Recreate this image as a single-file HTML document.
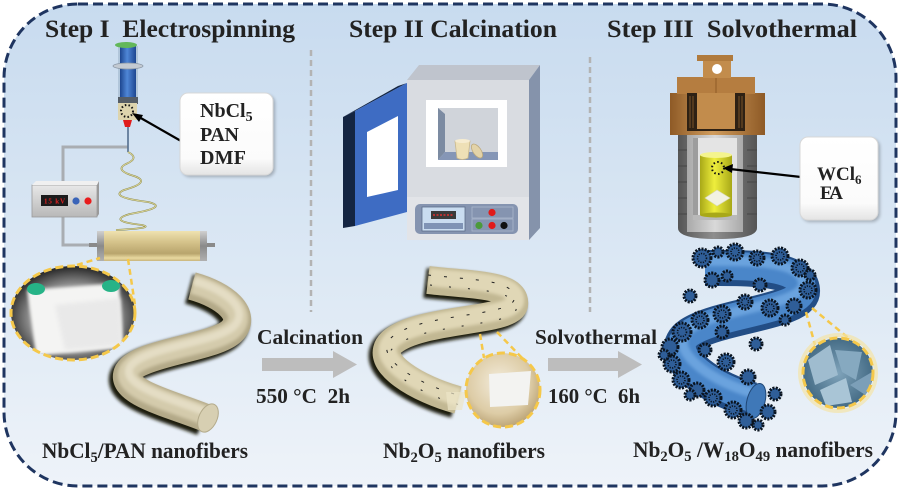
<!DOCTYPE html>
<html><head><meta charset="utf-8"><style>
html,body{margin:0;padding:0;background:#fff;}
svg{display:block;}
text{font-family:"Liberation Serif","Times New Roman",serif;font-weight:bold;fill:#222;}
</style></head><body>
<svg width="900" height="490" viewBox="0 0 900 490" xmlns="http://www.w3.org/2000/svg">
<defs>
<linearGradient id="bg" x1="0" y1="0" x2="0" y2="1">
<stop offset="0" stop-color="#c8dbef"/><stop offset="0.55" stop-color="#dce8f4"/><stop offset="1" stop-color="#eef3f9"/>
</linearGradient>
<linearGradient id="boxg" x1="0" y1="0" x2="0" y2="1">
<stop offset="0" stop-color="#ffffff"/><stop offset="0.8" stop-color="#fbfbfb"/><stop offset="1" stop-color="#e4e4e4"/>
</linearGradient>
<linearGradient id="barrel" x1="0" y1="0" x2="1" y2="0">
<stop offset="0" stop-color="#1d4690"/><stop offset="0.45" stop-color="#4f86d6"/><stop offset="1" stop-color="#1d4690"/>
</linearGradient>
<linearGradient id="drum" x1="0" y1="0" x2="0" y2="1">
<stop offset="0" stop-color="#efe2b0"/><stop offset="0.35" stop-color="#d6c48c"/><stop offset="0.75" stop-color="#b8a46c"/><stop offset="0.9" stop-color="#e9d9a0"/><stop offset="1" stop-color="#c9b57c"/>
</linearGradient>
<linearGradient id="cap" x1="0" y1="0" x2="0" y2="1">
<stop offset="0" stop-color="#d0d0d0"/><stop offset="0.5" stop-color="#8a8a8a"/><stop offset="1" stop-color="#b0b0b0"/>
</linearGradient>
<linearGradient id="vbox" x1="0" y1="0" x2="0" y2="1">
<stop offset="0" stop-color="#e8e8e8"/><stop offset="1" stop-color="#b8b8b8"/>
</linearGradient>
<radialGradient id="vign" cx="0.5" cy="0.55" r="0.55">
<stop offset="0" stop-color="#e0e0e0"/><stop offset="0.65" stop-color="#8a8a8a"/><stop offset="1" stop-color="#1e1e1e"/>
</radialGradient>
<radialGradient id="tanc" cx="0.45" cy="0.4" r="0.6">
<stop offset="0" stop-color="#f3ecdc"/><stop offset="0.7" stop-color="#ddcca6"/><stop offset="1" stop-color="#bda679"/>
</radialGradient>
<radialGradient id="bluec" cx="0.5" cy="0.5" r="0.55">
<stop offset="0" stop-color="#7fa3ba"/><stop offset="1" stop-color="#3f6680"/>
</radialGradient>
<linearGradient id="lid" x1="0" y1="0" x2="1" y2="0">
<stop offset="0" stop-color="#8e5a26"/><stop offset="0.45" stop-color="#d19d5e"/><stop offset="1" stop-color="#8e5a26"/>
</linearGradient>
<linearGradient id="body" x1="0" y1="0" x2="1" y2="0">
<stop offset="0" stop-color="#555"/><stop offset="0.45" stop-color="#8e8e8e"/><stop offset="1" stop-color="#555"/>
</linearGradient>
<linearGradient id="yel" x1="0" y1="0" x2="1" y2="0">
<stop offset="0" stop-color="#a8a818"/><stop offset="0.45" stop-color="#eeee3c"/><stop offset="1" stop-color="#a8a818"/>
</linearGradient>
<linearGradient id="ptfe" x1="0" y1="0" x2="1" y2="0">
<stop offset="0" stop-color="#a9a9a9"/><stop offset="0.5" stop-color="#d9d9d9"/><stop offset="1" stop-color="#a9a9a9"/>
</linearGradient>
<clipPath id="cl1"><ellipse cx="73" cy="313" rx="62" ry="47"/></clipPath>
<clipPath id="cl2"><circle cx="503" cy="390" r="37"/></clipPath>
<clipPath id="cl3"><circle cx="838" cy="373" r="35"/></clipPath>
<filter id="sh" x="-20%" y="-20%" width="140%" height="140%"><feGaussianBlur stdDeviation="1.5"/></filter>
<filter id="bl" x="-20%" y="-20%" width="140%" height="140%"><feGaussianBlur stdDeviation="2"/></filter>
</defs>

<!-- background panel -->
<rect x="4" y="4" width="892" height="482" rx="74" ry="74" fill="url(#bg)"/>
<rect x="4" y="4" width="892" height="482" rx="74" ry="74" fill="none" stroke="#1f3560" stroke-width="3" stroke-dasharray="10 5"/>

<!-- separators -->
<line x1="311" y1="50" x2="311" y2="312" stroke="#b3b3b3" stroke-width="2.5" stroke-dasharray="6 4"/>
<line x1="590" y1="57" x2="590" y2="312" stroke="#b3b3b3" stroke-width="2.5" stroke-dasharray="6 4"/>

<!-- titles -->
<text x="45" y="37" font-size="25" textLength="250" lengthAdjust="spacingAndGlyphs">Step I&#160;&#160;Electrospinning</text>
<text x="349" y="37" font-size="25" textLength="208" lengthAdjust="spacingAndGlyphs">Step II Calcination</text>
<text x="607" y="37" font-size="25" textLength="250" lengthAdjust="spacingAndGlyphs">Step III&#160;&#160;Solvothermal</text>

<!-- ===== STEP I ===== -->
<polyline points="128,147 63,147 63,186" fill="none" stroke="#a9adb2" stroke-width="3"/>
<polyline points="63,216 63,245 92,245" fill="none" stroke="#a9adb2" stroke-width="3"/>
<rect x="118" y="46" width="20" height="56" fill="#9fb5cc" opacity="0.6"/>
<rect x="120" y="46" width="16" height="52" fill="url(#barrel)"/>
<ellipse cx="126" cy="45" rx="11" ry="3" fill="#63b85a"/>
<ellipse cx="128" cy="66" rx="15" ry="3" fill="#c3cad2" stroke="#8a97a5" stroke-width="0.8"/>
<rect x="118" y="97" width="20" height="7" fill="#555d66"/>
<rect x="118" y="103" width="19" height="17" fill="#ddd4ad"/>
<circle cx="127" cy="111" r="6" fill="none" stroke="#111" stroke-width="2" stroke-dasharray="1.5 2.2"/>
<polygon points="123,120 132,120 130,127 125,127" fill="#e01c1c"/>
<line x1="128" y1="127" x2="128" y2="152" stroke="#56708f" stroke-width="1.6"/>
<path d="M128,152 Q140,158 126,164 Q114,170 134,176 Q152,182 124,190 Q108,197 148,202 Q170,207 130,214 Q106,221 142,225 Q156,228 116,230" fill="none" stroke="#8c8a4a" stroke-width="1.8"/>
<path d="M128,152 Q140,158 126,164 Q114,170 134,176 Q152,182 124,190 Q108,197 148,202 Q170,207 130,214 Q106,221 142,225 Q156,228 116,230" fill="none" stroke="#e2dca0" stroke-width="0.8"/>
<rect x="32" y="185" width="65" height="32" fill="url(#vbox)" stroke="#9a9a9a" stroke-width="0.8"/>
<polygon points="32,185 36,181 99,181 97,185" fill="#f0f0f0"/>
<polygon points="97,185 99,181 99,214 97,217" fill="#9a9a9a"/>
<rect x="41" y="195" width="27" height="11" fill="#1b1b1b"/>
<text x="44" y="203.5" font-size="7" style="fill:#e02020" textLength="21">15 kV</text>
<circle cx="76" cy="201" r="3.6" fill="#3a64b8"/>
<circle cx="88" cy="201" r="3.6" fill="#e81c1c"/>
<rect x="89" y="243" width="9" height="4" fill="#8a8a8a"/>
<rect x="206" y="243" width="9" height="4" fill="#8a8a8a"/>
<rect x="97" y="231" width="110" height="30" fill="url(#drum)"/>
<rect x="97" y="231" width="7" height="30" fill="url(#cap)"/>
<rect x="200" y="231" width="7" height="30" fill="url(#cap)"/>
<line x1="181" y1="141" x2="139" y2="117" stroke="#000" stroke-width="2.2"/>
<polygon points="132,113 143,115 139,122" fill="#000"/>
<rect x="182" y="95" width="93" height="82" rx="8" fill="#000" opacity="0.25" filter="url(#sh)"/>
<rect x="180" y="93" width="93" height="82" rx="8" fill="url(#boxg)" stroke="#d8d8d8" stroke-width="1"/>
<text x="200" y="117" font-size="20">NbCl<tspan font-size="14" dy="4">5</tspan></text>
<text x="200" y="141" font-size="20" textLength="39">PAN</text>
<text x="200" y="164" font-size="20" textLength="46">DMF</text>
<!-- inset left -->
<line x1="77" y1="265" x2="100" y2="258" stroke="#f5c84a" stroke-width="2.5" stroke-dasharray="6 4"/>
<line x1="128" y1="259" x2="135" y2="305" stroke="#f5c84a" stroke-width="2.5" stroke-dasharray="6 4"/>
<g clip-path="url(#cl1)">
<rect x="10" y="265" width="128" height="96" fill="url(#vign)"/>
<polygon points="27,290 119,283 123,348 36,356" fill="#f4f4f3" filter="url(#sh)"/>
<polygon points="55,305 120,298 122,345 65,350" fill="#e9e9e9" filter="url(#bl)"/>
<ellipse cx="36" cy="289" rx="9" ry="6" fill="#26b387"/>
<ellipse cx="111" cy="286" rx="9" ry="6" fill="#26b387"/>
</g>
<ellipse cx="73" cy="313" rx="62" ry="47" fill="none" stroke="#f5c84a" stroke-width="3" stroke-dasharray="8 4"/>
<!-- fiber left -->
<g fill="none" stroke-linecap="butt">
<path d="M192,286 C225,295 248,315 232,331 C215,348 140,352 128,372 C118,392 175,405 206,418" stroke="#1e1a10" stroke-width="30" transform="translate(-3,3)" filter="url(#sh)"/>
<path d="M192,286 C225,295 248,315 232,331 C215,348 140,352 128,372 C118,392 175,405 206,418" stroke="#b3a988" stroke-width="28"/>
<path d="M192,286 C225,295 248,315 232,331 C215,348 140,352 128,372 C118,392 175,405 206,418" stroke="#d4cbac" stroke-width="20" transform="translate(1,-2)" filter="url(#sh)"/>
<path d="M192,286 C225,295 248,315 232,331 C215,348 140,352 128,372 C118,392 175,405 206,418" stroke="#e4ddc4" stroke-width="8" transform="translate(2,-5)" filter="url(#sh)"/>
</g>
<ellipse cx="208" cy="418" rx="9" ry="15" transform="rotate(25 208 418)" fill="#d7cfb2" stroke="#b3aa8a" stroke-width="1"/>
<text x="42" y="458" font-size="22" textLength="206" lengthAdjust="spacingAndGlyphs">NbCl<tspan font-size="15" dy="4">5</tspan><tspan dy="-4">/PAN nanofibers</tspan></text>

<!-- arrows -->
<rect x="262" y="358" width="73" height="13" fill="#bdbdbd"/>
<polygon points="333,351 357,364.5 333,378" fill="#bdbdbd"/>
<rect x="548" y="358" width="72" height="13" fill="#bdbdbd"/>
<polygon points="618,351 642,364.5 618,378" fill="#bdbdbd"/>
<text x="257" y="344" font-size="21" textLength="106" lengthAdjust="spacingAndGlyphs">Calcination</text>
<text x="256" y="403" font-size="21" textLength="94" lengthAdjust="spacingAndGlyphs">550 °C&#160;&#160;2h</text>
<text x="535" y="344" font-size="21" textLength="122" lengthAdjust="spacingAndGlyphs">Solvothermal</text>
<text x="548" y="403" font-size="21" textLength="92" lengthAdjust="spacingAndGlyphs">160 °C&#160;&#160;6h</text>

<!-- ===== STEP II furnace ===== -->
<polygon points="407,80 419,65 540,65 529,80" fill="#bfc4cd"/>
<polygon points="529,80 540,65 540,228 529,240" fill="#8593ab"/>
<rect x="407" y="80" width="122" height="160" fill="#d9dce1"/>
<rect x="407" y="197" width="122" height="43" fill="#e2e4e8"/>
<rect x="426" y="100" width="81" height="67" fill="#ffffff"/>
<rect x="438" y="108" width="60" height="52" fill="#d0d4da"/>
<polygon points="438,108 445,114 445,152 438,160" fill="#7c8ba2"/>
<polygon points="438,160 445,152 498,152 498,160" fill="#8596b6"/>
<path d="M455,141 L470,141 L468,158 Q462,161 457,158 Z" fill="#eee0b6" stroke="#c9b88c" stroke-width="0.8"/>
<ellipse cx="462.5" cy="141" rx="7.5" ry="2" fill="#f6ecd0"/>
<ellipse cx="477" cy="151" rx="4" ry="8" transform="rotate(-35 477 151)" fill="#e3d3a8" stroke="#bca97c" stroke-width="0.8"/>
<rect x="415" y="204" width="103" height="30" rx="5" fill="#8594b0"/>
<rect x="422" y="207" width="43" height="24" fill="#c9dcf0" stroke="#5d6d8a" stroke-width="0.8"/>
<rect x="431" y="211" width="25" height="8" fill="#3a3a3a"/>
<line x1="433" y1="215" x2="454" y2="215" stroke="#e03030" stroke-width="1.5" stroke-dasharray="2 1.5"/>
<rect x="424" y="223" width="39" height="6" fill="#7f93b5"/>
<rect x="472" y="207" width="41" height="11" fill="none" stroke="#a9b6cc" stroke-width="0.8"/>
<rect x="472" y="219" width="41" height="12" fill="none" stroke="#a9b6cc" stroke-width="0.8"/>
<circle cx="492" cy="212.5" r="3.6" fill="#e01a1a"/>
<circle cx="479" cy="225.5" r="3.6" fill="#4c9a3a"/>
<circle cx="492" cy="225.5" r="3.6" fill="#e01a1a"/>
<circle cx="504" cy="225.5" r="3.6" fill="#111"/>
<polygon points="343,117 355,111 355,226 343,228" fill="#142542"/>
<polygon points="343,117 398,86 407,83 355,111" fill="#142542"/>
<polygon points="355,111 407,83 407,212 355,226" fill="#3e6cc3"/>
<polygon points="367,132 398,116 398,190 367,197" fill="#ffffff"/>
<!-- fiber middle -->
<g fill="none">
<path d="M428,280 C470,285 518,284 514,305 C508,322 420,318 392,342 C370,362 420,390 458,400" stroke="#1e1a10" stroke-width="30" transform="translate(-3,3)" filter="url(#sh)"/>
<path d="M428,280 C470,285 518,284 514,305 C508,322 420,318 392,342 C370,362 420,390 458,400" stroke="#c2b893" stroke-width="28"/>
<path d="M428,280 C470,285 518,284 514,305 C508,322 420,318 392,342 C370,362 420,390 458,400" stroke="#e0d7b6" stroke-width="18" transform="translate(1,-3)" filter="url(#sh)"/>
<path d="M428,280 C470,285 518,284 514,305 C508,322 420,318 392,342 C370,362 420,390 458,400" stroke="#222" stroke-width="1" stroke-dasharray="3 13" transform="translate(0,-5)"/>
<path d="M428,280 C470,285 518,284 514,305 C508,322 420,318 392,342 C370,362 420,390 458,400" stroke="#222" stroke-width="1" stroke-dasharray="2 17" transform="translate(2,5)"/>
</g>
<polygon points="446,392 466,392 462,410 448,410" fill="#ede5c8" opacity="0.7"/>
<line x1="480" y1="334" x2="484" y2="358" stroke="#f5c84a" stroke-width="2.5" stroke-dasharray="6 4"/>
<line x1="497" y1="332" x2="524" y2="360" stroke="#f5c84a" stroke-width="2.5" stroke-dasharray="6 4"/>
<g clip-path="url(#cl2)">
<circle cx="503" cy="390" r="37" fill="url(#tanc)"/>
<polygon points="489,374 531,371 528,405 490,407" fill="#f3f3f1"/>
</g>
<circle cx="503" cy="390" r="37" fill="none" stroke="#f5c84a" stroke-width="3" stroke-dasharray="8 4"/>
<text x="383" y="458" font-size="22" textLength="162" lengthAdjust="spacingAndGlyphs">Nb<tspan font-size="15" dy="4">2</tspan><tspan dy="-4">O</tspan><tspan font-size="15" dy="4">5</tspan><tspan dy="-4"> nanofibers</tspan></text>

<!-- ===== STEP III autoclave ===== -->
<path d="M678,130 H757 V228 Q757,239 717,239 Q678,239 678,228 Z" fill="url(#body)"/>
<g stroke="#4a4a4a" stroke-width="1.2">
<line x1="678" y1="150" x2="688" y2="150"/><line x1="678" y1="166" x2="688" y2="166"/><line x1="678" y1="182" x2="688" y2="182"/><line x1="678" y1="198" x2="688" y2="198"/><line x1="678" y1="214" x2="688" y2="214"/>
<line x1="747" y1="150" x2="757" y2="150"/><line x1="747" y1="166" x2="757" y2="166"/><line x1="747" y1="182" x2="757" y2="182"/><line x1="747" y1="198" x2="757" y2="198"/><line x1="747" y1="214" x2="757" y2="214"/>
</g>
<rect x="687" y="112" width="56" height="120" fill="url(#ptfe)"/>
<rect x="693" y="138" width="44" height="82" fill="#e4e4e4"/>
<rect x="693" y="138" width="5" height="82" fill="#9d9d9d"/>
<rect x="693" y="215" width="44" height="5" fill="#b9b9b9"/>
<rect x="700" y="155" width="32" height="60" fill="url(#yel)"/>
<ellipse cx="716" cy="155" rx="16" ry="3" fill="#f4f48e"/>
<ellipse cx="716" cy="215" rx="16" ry="2.5" fill="#a8a818"/>
<circle cx="718" cy="168" r="6" fill="none" stroke="#111" stroke-width="2" stroke-dasharray="1.5 2.4"/>
<polygon points="705,198 717,190 730,198 717,206" fill="#f2f2e2" stroke="#d8d8b0" stroke-width="0.6"/>
<rect x="670" y="93" width="95" height="42" fill="url(#lid)"/>
<rect x="677" y="77" width="78" height="17" fill="#b57d40"/>
<line x1="716" y1="77" x2="716" y2="94" stroke="#8e5a26" stroke-width="1"/>
<rect x="687" y="93" width="58" height="38" fill="#2e2114"/>
<rect x="697" y="93" width="38" height="36" fill="#c28c4c"/>
<g stroke="#7a5228" stroke-width="1">
<line x1="690" y1="96" x2="690" y2="128"/><line x1="693" y1="96" x2="693" y2="128"/><line x1="739" y1="96" x2="739" y2="128"/><line x1="742" y1="96" x2="742" y2="128"/>
</g>
<rect x="703" y="60" width="28" height="18" fill="#c28c4c"/>
<rect x="697" y="55" width="36" height="6" fill="#b07a3c"/>
<circle cx="717" cy="69" r="5" fill="#fff"/>
<line x1="801" y1="177" x2="730" y2="169" stroke="#000" stroke-width="2.2"/>
<polygon points="723,168 733,164 732,173" fill="#000"/>
<rect x="802" y="139" width="78" height="83" rx="8" fill="#000" opacity="0.25" filter="url(#sh)"/>
<rect x="800" y="137" width="78" height="83" rx="8" fill="url(#boxg)" stroke="#d8d8d8" stroke-width="1"/>
<text x="817" y="180" font-size="19">WCl<tspan font-size="13" dy="4">6</tspan></text>
<text x="820" y="199" font-size="19" textLength="23">EA</text>

<!-- blue fiber -->
<g fill="none">
<path d="M705,268 C740,268 800,266 802,290 C804,312 720,315 690,335 C665,352 700,385 752,400" stroke="#224d85" stroke-width="36"/>
<path d="M705,268 C740,268 800,266 802,290 C804,312 720,315 690,335 C665,352 700,385 752,400" stroke="#4a86c9" stroke-width="28" transform="translate(0,-2)"/>
<path d="M705,268 C740,268 800,266 802,290 C804,312 720,315 690,335 C665,352 700,385 752,400" stroke="#6aa3de" stroke-width="10" transform="translate(1,-7)" filter="url(#sh)"/>
</g>
<ellipse cx="756" cy="401" rx="9" ry="18" transform="rotate(15 756 401)" fill="#3f78b8" stroke="#1f4675" stroke-width="1"/>
<g fill="#2f5e98" stroke="#0a1420" stroke-width="3" stroke-dasharray="2 1.2">
<circle cx="702" cy="258" r="9"/><circle cx="712" cy="280" r="7"/><circle cx="735" cy="252" r="8"/><circle cx="757" cy="258" r="7"/>
<circle cx="780" cy="256" r="8"/><circle cx="800" cy="268" r="8"/><circle cx="808" cy="290" r="8"/><circle cx="794" cy="306" r="7"/>
<circle cx="770" cy="308" r="8"/><circle cx="745" cy="302" r="7"/><circle cx="722" cy="314" r="8"/><circle cx="700" cy="320" r="8"/>
<circle cx="682" cy="332" r="9"/><circle cx="670" cy="347" r="8"/><circle cx="672" cy="364" r="8"/><circle cx="681" cy="380" r="8"/>
<circle cx="697" cy="390" r="7"/><circle cx="713" cy="398" r="8"/><circle cx="733" cy="410" r="8"/><circle cx="746" cy="421" r="7"/>
<circle cx="768" cy="412" r="7"/><circle cx="775" cy="394" r="6"/><circle cx="748" cy="377" r="7"/><circle cx="726" cy="362" r="8"/>
<circle cx="705" cy="350" r="6"/><circle cx="722" cy="332" r="6"/><circle cx="756" cy="344" r="6"/><circle cx="690" cy="296" r="6"/>
<circle cx="760" cy="285" r="6"/><circle cx="727" cy="276" r="5"/>
<circle cx="718" cy="252" r="5"/><circle cx="810" cy="275" r="5"/><circle cx="664" cy="355" r="5"/><circle cx="690" cy="395" r="5"/><circle cx="758" cy="425" r="5"/><circle cx="785" cy="320" r="5"/>
</g>
<g fill="none" stroke="#0a1420" stroke-width="1.6" stroke-dasharray="1.2 1.3">
<circle cx="702" cy="258" r="4.5"/><circle cx="735" cy="252" r="4"/><circle cx="780" cy="256" r="4"/><circle cx="808" cy="290" r="4"/>
<circle cx="770" cy="308" r="4"/><circle cx="722" cy="314" r="4"/><circle cx="682" cy="332" r="4.5"/><circle cx="672" cy="364" r="4"/>
<circle cx="713" cy="398" r="4"/><circle cx="733" cy="410" r="4"/><circle cx="726" cy="362" r="4"/><circle cx="800" cy="268" r="4"/>
<circle cx="700" cy="320" r="4"/><circle cx="681" cy="380" r="4"/><circle cx="757" cy="258" r="3.5"/><circle cx="745" cy="302" r="3.5"/>
</g>
<!-- inset right -->
<line x1="806" y1="312" x2="815" y2="345" stroke="#f5c84a" stroke-width="2.5" stroke-dasharray="6 4"/>
<line x1="812" y1="308" x2="852" y2="341" stroke="#f5c84a" stroke-width="2.5" stroke-dasharray="6 4"/>
<circle cx="838" cy="373" r="38" fill="none" stroke="#f3e4a8" stroke-width="4" opacity="0.7"/>
<g clip-path="url(#cl3)">
<circle cx="838" cy="373" r="35" fill="url(#bluec)"/>
<polygon points="808,360 830,345 838,375 815,385" fill="#9fbccf"/>
<polygon points="835,350 862,352 856,380 842,372" fill="#86a9c0"/>
<polygon points="820,390 846,378 852,402 826,406" fill="#a9c5d6"/>
<polygon points="850,385 872,372 870,398" fill="#7c9fb8"/>
</g>
<circle cx="838" cy="373" r="35" fill="none" stroke="#f5c84a" stroke-width="3" stroke-dasharray="8 4"/>
<text x="633" y="457" font-size="22" textLength="240" lengthAdjust="spacingAndGlyphs">Nb<tspan font-size="15" dy="4">2</tspan><tspan dy="-4">O</tspan><tspan font-size="15" dy="4">5</tspan><tspan dy="-4"> /W</tspan><tspan font-size="15" dy="4">18</tspan><tspan dy="-4">O</tspan><tspan font-size="15" dy="4">49</tspan><tspan dy="-4"> nanofibers</tspan></text>
</svg>
</body></html>
